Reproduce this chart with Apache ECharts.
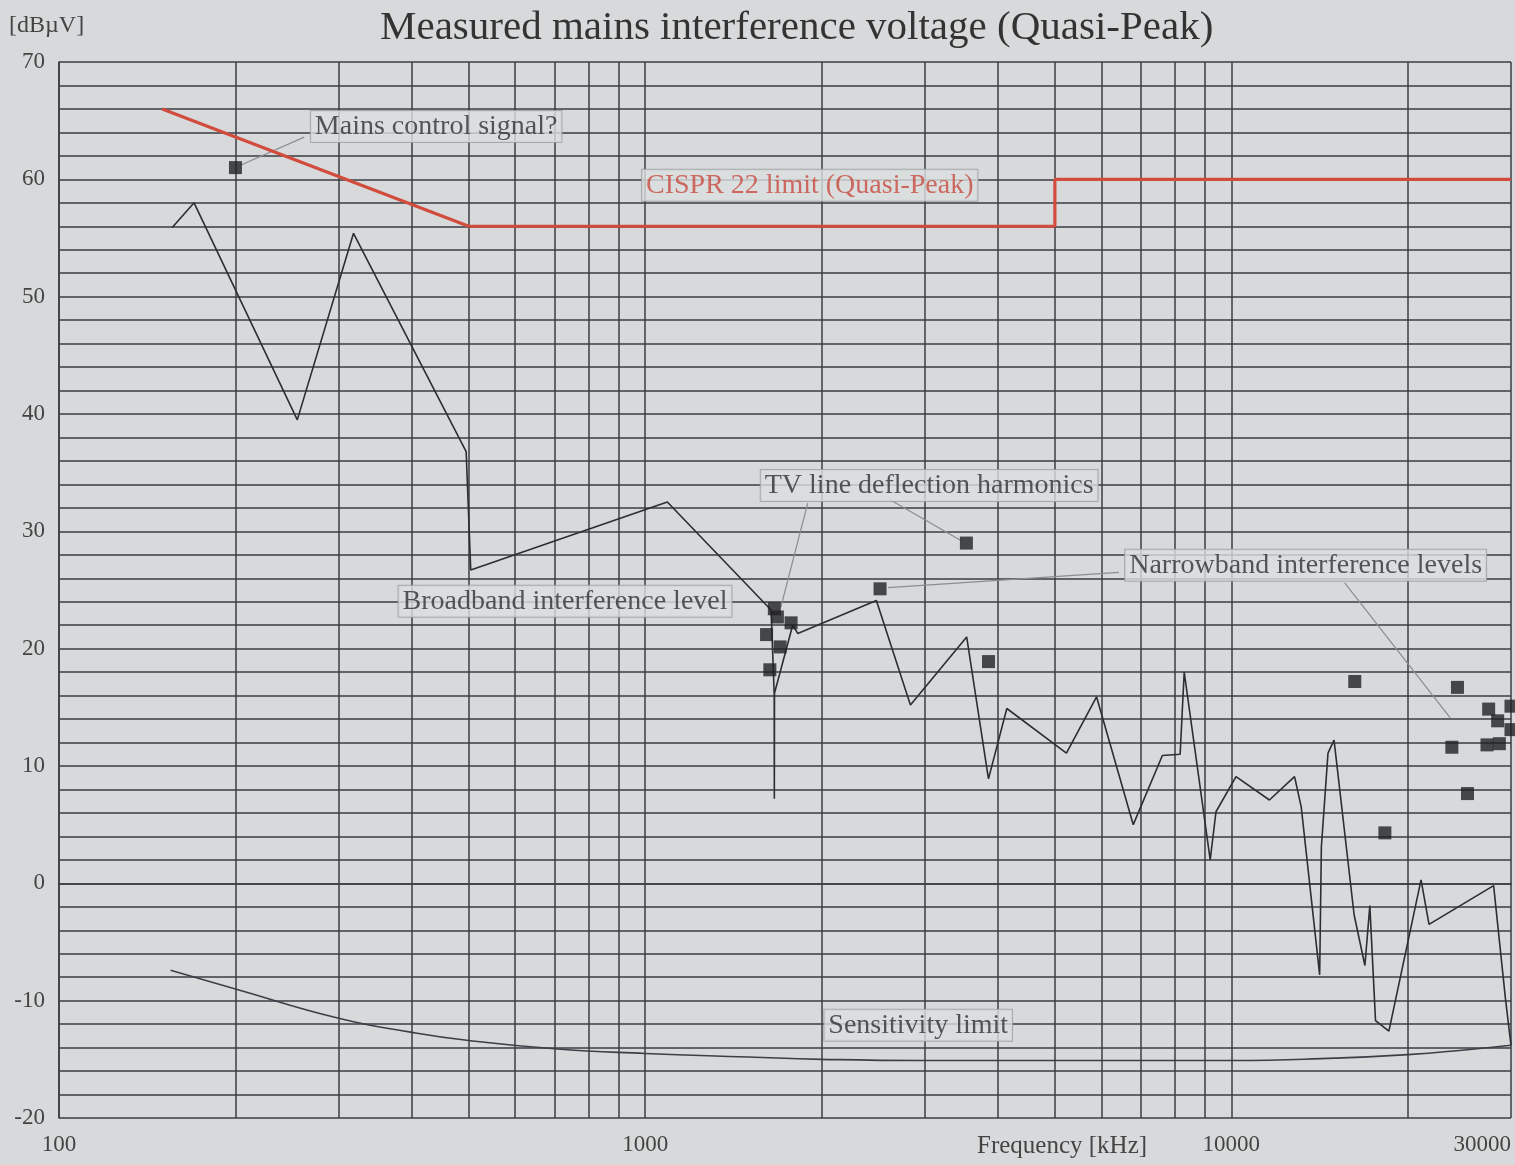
<!DOCTYPE html>
<html>
<head>
<meta charset="utf-8">
<title>Measured mains interference voltage</title>
<script src="https://cdn.jsdelivr.net/npm/echarts@6/dist/echarts.min.js"></script>
<style>
  html, body { margin: 0; padding: 0; background: #d7d9da; }
  #chart { width: 1515px; height: 1165px; }
</style>
</head>
<body>
<div id="chart"></div>
<script>
// frequency in kHz, level in dBuV
const limitFreq = [150, 500, 5000, 5000, 30000]
const limitLevel = [66, 56, 56, 60, 60]

const bbFreq = [156, 170, 255, 318, 495, 504, 1091, 1640, 1660, 1661, 1662, 1785, 1821, 2480, 2835, 3536, 3852, 4140, 5232, 5889, 6803, 7627, 8178, 8310, 9204, 9415, 10186, 11614, 12819, 13161, 14148, 14243, 14619, 14970, 16200, 16900, 17230, 17620, 18570, 21070, 21740, 28020, 29350, 30000]
const bbLevel = [55.9, 58.0, 39.5, 55.4, 36.8, 26.7, 32.5, 23.3, 16.2, 7.2, 16.2, 22.0, 21.3, 24.1, 15.2, 21.0, 8.9, 14.9, 11.1, 15.9, 5.0, 10.9, 11.0, 18.0, 2.0, 6.1, 9.1, 7.1, 9.1, 6.5, -7.8, 3.1, 11.1, 12.2, -2.7, -7.0, -1.9, -11.7, -12.6, 0.3, -3.5, -0.2, -9.8, -13.8]

const sensFreq = [155, 200, 300, 400, 500, 700, 1000, 1500, 2000, 3000, 5000, 10000, 15000, 20000, 25000, 30000]
const sensLevel = [-7.4, -9.0, -11.5, -12.7, -13.4, -14.1, -14.5, -14.8, -15.0, -15.1, -15.1, -15.1, -14.9, -14.6, -14.2, -13.8]

const markFreq = [200, 1661, 1681, 1774, 1611, 1699, 1632, 2516, 3532, 3852, 16240, 18280, 24310, 23780, 25290, 27480, 28470, 27300, 28660, 30000, 30000]
const markLevel = [61.0, 23.4, 22.7, 22.2, 21.2, 20.15, 18.2, 25.1, 29.0, 18.9, 17.2, 4.3, 16.7, 11.6, 7.65, 14.85, 13.85, 11.8, 11.9, 15.1, 13.1]

const gridFreq = [100, 200, 300, 400, 500, 600, 700, 800, 900, 1000, 2000, 3000, 4000, 5000, 6000, 7000, 8000, 9000, 10000, 20000, 30000]

const noteText = ['Mains control signal?', 'CISPR 22 limit (Quasi-Peak)', 'TV line deflection harmonics', 'Broadband interference level', 'Narrowband interference levels', 'Sensitivity limit']
const noteFreq = [440, 1909, 3052, 730, 13390, 2923]
const noteLevel = [64.5, 59.5, 33.9, 24.05, 27.1, -12.1]

// leader lines: [from freq, from level, to freq, to level]
const leaders = [
  [262, 63.6, 204, 61.2],
  [1894, 32.4, 1703, 23.5],
  [2617, 32.7, 3462, 29.2],
  [6430, 26.5, 2597, 25.2],
  [15610, 25.6, 23630, 14.1]
]

const FONT = 'Liberation Serif'
const GRID_COLOR = '#3a3e44'

const zip = (xs, ys) => xs.map((x, i) => [x, ys[i]])

let chart = echarts.init(document.getElementById('chart'))
chart.setOption({
  backgroundColor: '#d7d9da',
  animation: false,
  textStyle: { fontFamily: FONT },
  title: {
    text: 'Measured mains interference voltage (Quasi-Peak)',
    left: 375,
    top: 3,
    textStyle: { fontFamily: FONT, fontWeight: 'normal', fontSize: 41, color: '#333' }
  },
  graphic: [
    { type: 'text', left: 9, top: 14, style: { text: '[dBµV]', font: '24px "Liberation Serif"', fill: '#444' } },
    { type: 'text', left: 977, top: 1134, style: { text: 'Frequency [kHz]', font: '25px "Liberation Serif"', fill: '#444' } }
  ],
  grid: { left: 59, right: 4, top: 62, bottom: 47 },
  xAxis: {
    type: 'log',
    logBase: 10,
    min: 100,
    max: 30000,
    axisLine: { show: true, lineStyle: { color: GRID_COLOR, width: 1.5 } },
    axisTick: { show: false },
    splitLine: { show: false },
    axisLabel: {
      color: '#444',
      fontSize: 23,
      fontFamily: FONT,
      margin: 15,
      alignMaxLabel: 'right',
      formatter: v => String(Math.round(v))
    }
  },
  yAxis: {
    type: 'value',
    min: -20,
    max: 70,
    interval: 10,
    axisLine: { show: true, lineStyle: { color: GRID_COLOR, width: 1.5 } },
    axisTick: { show: false },
    axisLabel: { color: '#444', fontSize: 23, fontFamily: FONT, margin: 14 },
    splitLine: { show: true, lineStyle: { color: GRID_COLOR, width: 1.5 } },
    minorTick: { show: false, splitNumber: 5 },
    minorSplitLine: { show: true, lineStyle: { color: GRID_COLOR, width: 1.5 } }
  },
  series: [
    {
      // vertical grid lines
      name: 'grid',
      type: 'line',
      data: [],
      z: 1,
      silent: true,
      markLine: {
        silent: true,
        symbol: 'none',
        label: { show: false },
        lineStyle: { color: GRID_COLOR, width: 1.5, type: 'solid' },
        data: gridFreq.map(f => ({ xAxis: f }))
      }
    },
    {
      name: 'leaders',
      type: 'line',
      data: [],
      z: 3,
      silent: true,
      markLine: {
        silent: true,
        symbol: 'none',
        label: { show: false },
        lineStyle: { color: '#8a8d91', width: 1.2, type: 'solid' },
        data: leaders.map(l => [{ coord: [l[0], l[1]] }, { coord: [l[2], l[3]] }])
      }
    },
    {
      name: 'Sensitivity limit',
      type: 'line',
      smooth: true,
      symbol: 'none',
      z: 4,
      lineStyle: { color: '#3c4046', width: 1.6 },
      data: zip(sensFreq, sensLevel)
    },
    {
      name: 'CISPR 22 limit',
      type: 'line',
      symbol: 'none',
      z: 5,
      lineStyle: { color: '#d24c3e', width: 3.2 },
      data: zip(limitFreq, limitLevel)
    },
    {
      name: 'Broadband',
      type: 'line',
      symbol: 'none',
      z: 5,
      lineStyle: { color: '#2b2e33', width: 1.6 },
      data: zip(bbFreq, bbLevel)
    },
    {
      name: 'Narrowband',
      type: 'scatter',
      symbol: 'rect',
      symbolSize: 13,
      z: 6,
      clip: false,
      itemStyle: { color: '#202124' },
      data: zip(markFreq, markLevel)
    },
    {
      name: 'notes',
      type: 'scatter',
      symbolSize: 0,
      z: 7,
      silent: true,
      label: {
        show: true,
        position: 'inside',
        formatter: p => p.name,
        fontFamily: FONT,
        fontSize: 28,
        color: '#2f3032',
        backgroundColor: '#dcdedf',
        borderColor: '#9a9da1',
        borderWidth: 1,
        padding: [2, 4, 1, 4]
      },
      data: noteText.map((t, i) => ({
        name: t,
        value: [noteFreq[i], noteLevel[i]],
        label: i === 1 ? { color: '#c84a3e' } : {}
      }))
    }
  ]
})
</script>
</body>
</html>
